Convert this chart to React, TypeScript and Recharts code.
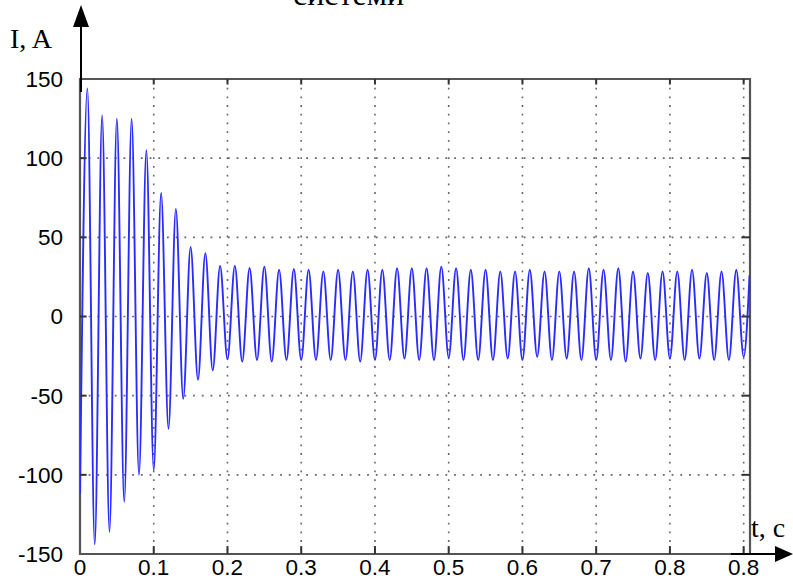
import React from 'react';
import { LineChart, Line, XAxis, YAxis, CartesianGrid, ReferenceArea, ReferenceLine } from 'recharts';

const xTickValues = [0, 0.1, 0.2, 0.3, 0.4, 0.5, 0.6, 0.7, 0.8, 0.9];
const xTickLabels = ['0', '0.1', '0.2', '0.3', '0.4', '0.5', '0.6', '0.7', '0.8', '0.8'];
const yTickValues = [-150, -100, -50, 0, 50, 100, 150];
const xMax = 0.9086;

// alternating trough / peak values, one every 0.01 s, starting at t = 0
const transientExtremes = [
  -112, 144, -144, 127, -136, 125, -117, 125, -100, 105,
  -97, 78, -71, 68, -52, 44, -40, 40, -34, 32,
];
const steadyExtremes = [
  -27, 32, -28.5, 30.6, -27.5, 31.5, -28.5, 29.5, -27.5, 30,
  -27.5, 29.5, -27.5, 28.5, -27.5, 29.5, -27.5, 28.5, -28.5, 29.5,
  -27.5, 29.5, -27.5, 30.5, -26.5, 30.5, -27.5, 30.5, -27.5, 31.5,
  -26, 30.5, -27.5, 29.5, -27.5, 29.5, -27.5, 28.5, -26.5, 28.5,
  -27.5, 29.5, -25.5, 28.5, -27.5, 28.5, -26.5, 28.5, -27.5, 30.5,
  -27.5, 29.5, -27.5, 30.5, -28.5, 28.5, -26.5, 27.5, -27.5, 28.5,
  -26.5, 28.5, -27.5, 29.5, -26.5, 27.5, -27.5, 28.5, -27.5, 29.5,
  -25.5,
];
const sampleStep = 0.01;
const lastTime = 0.908;
const lastValue = 26;

const data = [...transientExtremes, ...steadyExtremes]
  .map((v, k) => ({ t: Math.round(k * sampleStep * 1000) / 1000, i: v }))
  .concat([{ t: lastTime, i: lastValue }]);

const tickFont = { fontFamily: '"Liberation Sans", Arial, sans-serif', fontSize: 22.5, fill: '#000' };
const frameColor = '#555';

export default function App() {
  return (
    <div style={{ position: 'absolute', left: 0, top: 0, width: 793, height: 583, background: '#fff' }}>
      <LineChart width={793} height={583} data={data} margin={{ top: 79, right: 43, bottom: 0, left: 20 }}>
        <CartesianGrid stroke="#666" strokeDasharray="1.8 6.9" strokeWidth={1.6} horizontalValues={yTickValues} verticalValues={xTickValues} />
        <XAxis
          dataKey="t"
          type="number"
          domain={[0, xMax]}
          allowDataOverflow
          ticks={xTickValues}
          interval={0}
          height={29}
          axisLine={false}
          tickLine={false}
          tickSize={0}
          tickMargin={5}
          tick={tickFont}
          tickFormatter={(v: number) => xTickLabels[xTickValues.indexOf(v)] ?? String(v)}
        />
        <YAxis
          type="number"
          domain={[-150, 150]}
          ticks={yTickValues}
          interval={0}
          width={60}
          axisLine={false}
          tickLine={false}
          tickSize={0}
          tickMargin={17}
          tick={tickFont}
        />
        <Line type="monotone" dataKey="i" stroke="#2b2bff" strokeWidth={1.9} dot={false} isAnimationActive={false} />
        <ReferenceArea x1={0} x2={xMax} y1={-150} y2={150} fill="none" stroke={frameColor} strokeWidth={2.2} ifOverflow="visible" />
        {xTickValues.slice(1).map((x) => (
          <ReferenceLine key={'tt' + x} segment={[{ x, y: 150 }, { x, y: 146.5 }]} stroke="#333" strokeWidth={2} ifOverflow="visible" />
        ))}
        {xTickValues.slice(1).map((x) => (
          <ReferenceLine key={'bt' + x} segment={[{ x, y: -150 }, { x, y: -145 }]} stroke="#333" strokeWidth={2} ifOverflow="visible" />
        ))}
        {yTickValues.slice(1, -1).map((y) => (
          <ReferenceLine key={'lt' + y} segment={[{ x: 0, y }, { x: 0.009, y }]} stroke="#333" strokeWidth={2} ifOverflow="visible" />
        ))}
        {yTickValues.slice(1, -1).map((y) => (
          <ReferenceLine key={'rt' + y} segment={[{ x: xMax, y }, { x: xMax - 0.011, y }]} stroke="#333" strokeWidth={2} ifOverflow="visible" />
        ))}
      </LineChart>
      <svg width={793} height={583} style={{ position: 'absolute', left: 0, top: 0, pointerEvents: 'none' }}>
        <text x={293} y={4.5} fontFamily='"Liberation Serif", "Times New Roman", serif' fontSize={32} fill="#000">системи</text>
        <line x1={81} y1={92} x2={81} y2={24} stroke="#000" strokeWidth={2} />
        <polygon points="81,5 73,27 89,27" fill="#000" />
        <line x1={731} y1={554} x2={777} y2={554} stroke="#000" strokeWidth={2} />
        <polygon points="793,554 775,546 775,562" fill="#000" />
        <text x={10} y={47.5} fontFamily='"Liberation Serif", "Times New Roman", serif' fontSize={28} fill="#000">I, A</text>
        <text x={751} y={537} fontFamily='"Liberation Serif", "Times New Roman", serif' fontSize={28} fill="#000">t, c</text>
      </svg>
    </div>
  );
}
